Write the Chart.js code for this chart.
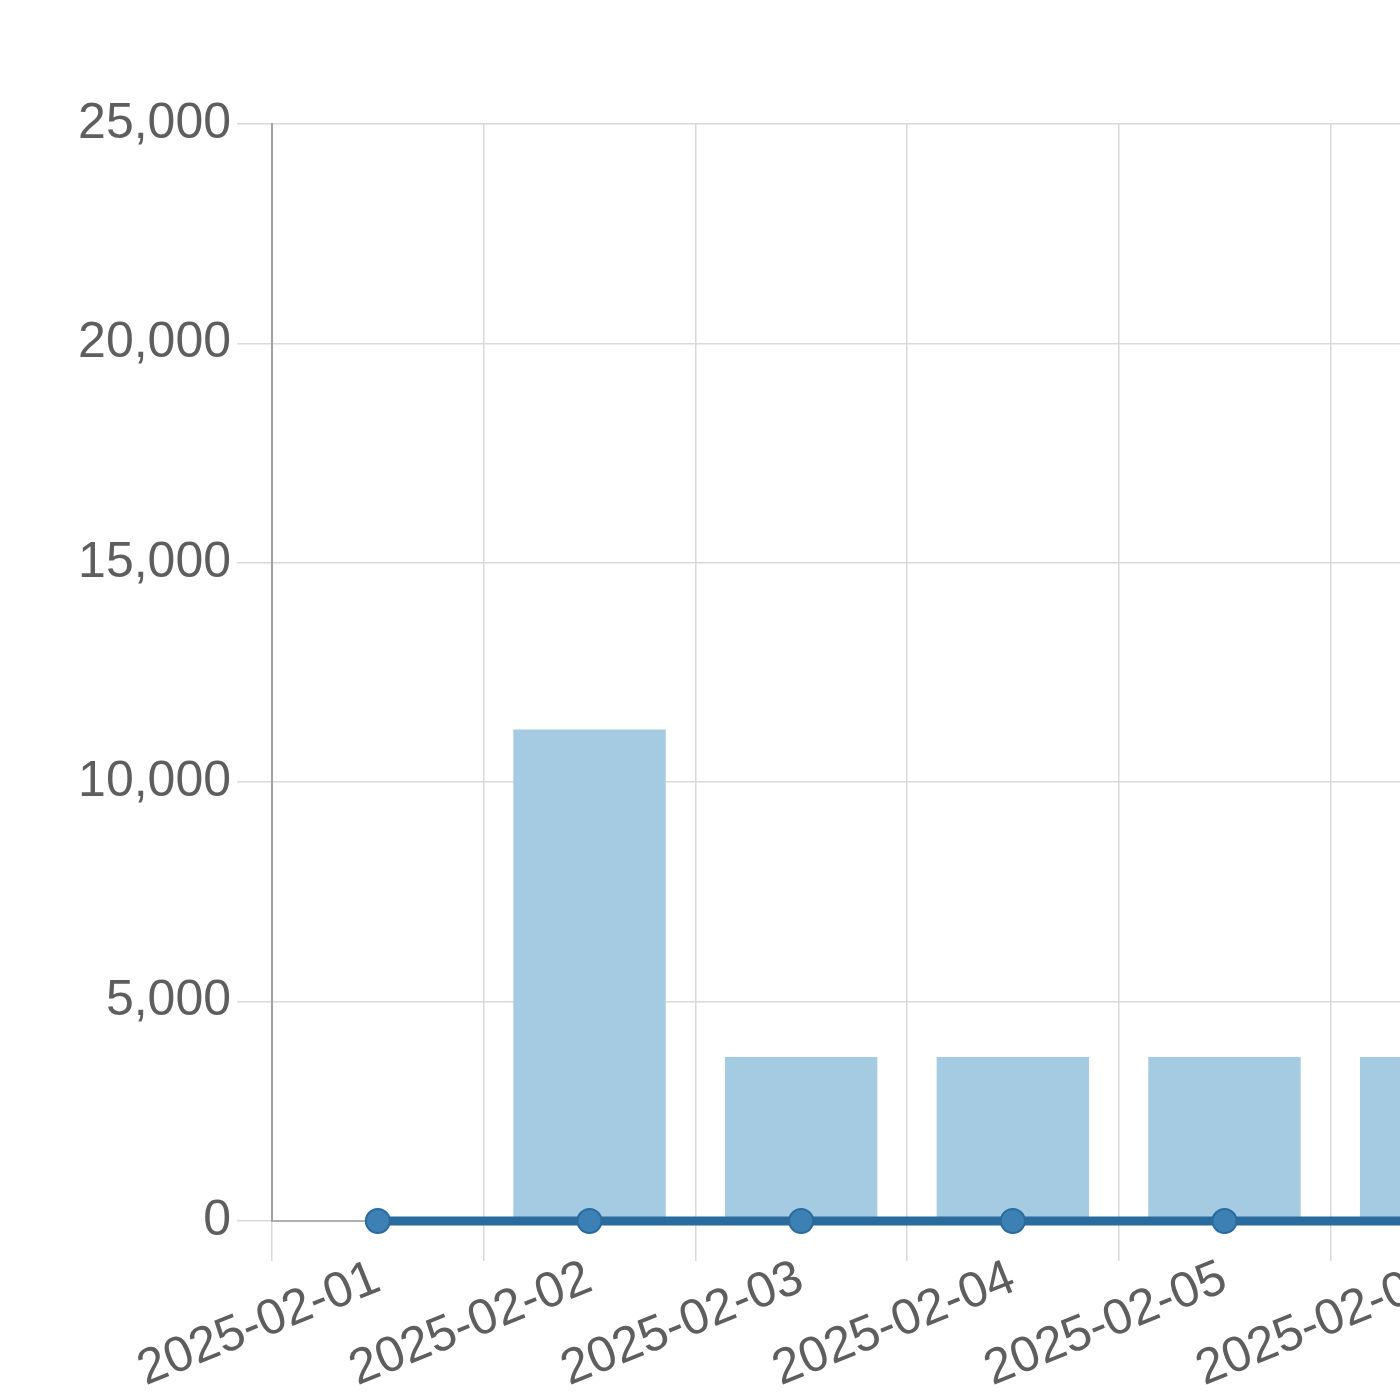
<!DOCTYPE html>
<html>
<head>
<meta charset="utf-8">
<script src="https://cdn.jsdelivr.net/npm/chart.js@4.4.1/dist/chart.umd.min.js"></script>
<style>
html,body{margin:0;padding:0;background:#fff;overflow:hidden;width:1400px;height:1400px;}
#wrap{position:absolute;left:0;top:0;width:1556px;height:1400px;}
</style>
</head>
<body>
<div id="wrap"><canvas id="c" width="1556" height="1400"></canvas></div>
<script>
const categories = ['2025-02-01','2025-02-02','2025-02-03','2025-02-04','2025-02-05','2025-02-06'];
const barValues = [0, 11200, 3740, 3740, 3740, 3740];
const lineValues = [0, 0, 0, 0, 0, 0];
const yTicks = [0, 5000, 10000, 15000, 20000, 25000];

const FONT = {family: '"Liberation Sans", Arial, sans-serif', size: 50};

new Chart(document.getElementById('c'), {
  data: {
    labels: categories,
    datasets: [
      {
        type: 'line',
        data: lineValues,
        borderColor: '#2a6b9e',
        backgroundColor: '#3a7db2',
        borderWidth: 9,
        pointRadius: 12,
        pointBorderWidth: 2,
        pointBorderColor: '#2a6b9e',
        pointBackgroundColor: '#3d80b4',
        fill: false,
        clip: false,
        order: 0
      },
      {
        type: 'bar',
        data: barValues,
        backgroundColor: '#a5cbe2',
        borderWidth: 0,
        order: 1
      }
    ]
  },
  options: {
    responsive: false,
    animation: false,
    devicePixelRatio: 1,
    layout: {padding: {top: 124, left: 0, right: 0, bottom: 0}},
    plugins: {legend: {display: false}, tooltip: {enabled: false}},
    scales: {
      x: {
        offset: true,
        grid: {color: '#d9d9d9', lineWidth: 1.5, tickLength: 40, offset: true, drawOnChartArea: true},
        border: {color: '#b0b0b0', width: 2},
        ticks: {font: FONT, color: '#5e5e5e', minRotation: 22, maxRotation: 22, padding: -12, autoSkip: false},
        afterFit: (s) => { s.height = 1400 - 1221; }
      },
      y: {
        min: 0, max: 25000,
        afterBuildTicks: (s) => { s.ticks = yTicks.map(v => ({value: v})); },
        grid: {color: '#d9d9d9', lineWidth: 1.5, tickLength: 35},
        border: {color: '#a0a0a0', width: 2},
        ticks: {font: FONT, color: '#5e5e5e', padding: 6,
          callback: (v) => v.toLocaleString('en-US')},
        afterFit: (s) => { s.width = 272; }
      }
    }
  }
});
</script>
</body>
</html>
